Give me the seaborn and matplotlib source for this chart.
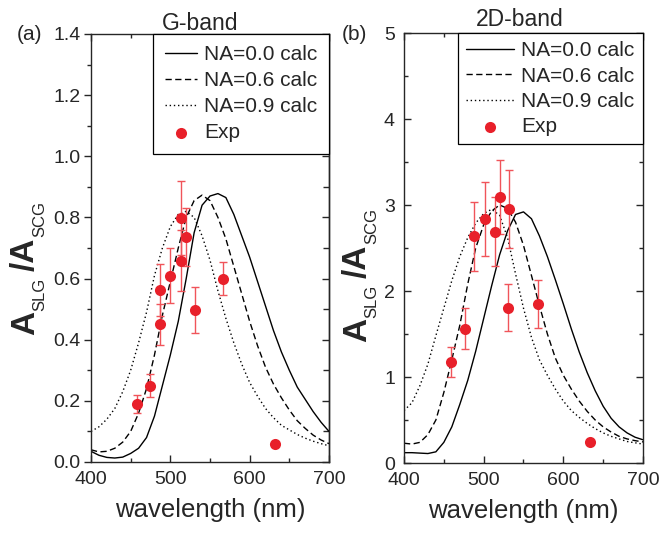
import matplotlib
matplotlib.use("Agg")
import matplotlib.pyplot as plt
import seaborn as sns
import pandas as pd
from matplotlib.ticker import MultipleLocator

# ---------------- data ----------------
wavelength = [400, 410, 420, 430, 440, 450, 460, 470, 480, 490, 500,
              510, 520, 530, 540, 550, 560, 570, 580, 590, 600,
              610, 620, 630, 640, 650, 660, 670, 680, 690, 700]

# G-band calculations
g_na00 = [0.035, 0.022, 0.015, 0.013, 0.016, 0.028, 0.045, 0.08, 0.15, 0.25, 0.35,
          0.46, 0.60, 0.75, 0.84, 0.87, 0.878, 0.865, 0.81, 0.74, 0.67,
          0.59, 0.51, 0.43, 0.36, 0.30, 0.245, 0.205, 0.165, 0.13, 0.10]
g_na06 = [0.04, 0.033, 0.035, 0.045, 0.065, 0.10, 0.16, 0.24, 0.35, 0.48, 0.59,
          0.70, 0.80, 0.855, 0.873, 0.855, 0.80, 0.73, 0.64, 0.55, 0.46,
          0.38, 0.31, 0.255, 0.21, 0.17, 0.135, 0.11, 0.088, 0.072, 0.06]
g_na09 = [0.10, 0.115, 0.14, 0.175, 0.23, 0.30, 0.39, 0.49, 0.61, 0.70, 0.77,
          0.81, 0.82, 0.80, 0.74, 0.66, 0.56, 0.47, 0.39, 0.32, 0.26,
          0.215, 0.175, 0.145, 0.12, 0.105, 0.09, 0.078, 0.068, 0.06, 0.053]

# 2D-band calculations
d_na00 = [0.12, 0.12, 0.115, 0.11, 0.13, 0.24, 0.42, 0.68, 0.96, 1.30, 1.68,
          2.06, 2.42, 2.70, 2.89, 2.92, 2.84, 2.64, 2.40, 2.13, 1.85,
          1.56, 1.29, 1.05, 0.84, 0.66, 0.52, 0.42, 0.35, 0.30, 0.27]
d_na06 = [0.23, 0.22, 0.24, 0.33, 0.50, 0.82, 1.20, 1.60, 2.08, 2.50, 2.77,
          2.93, 3.00, 2.96, 2.80, 2.53, 2.18, 1.83, 1.50, 1.22, 1.02,
          0.86, 0.72, 0.60, 0.50, 0.42, 0.36, 0.31, 0.28, 0.26, 0.245]
d_na09 = [0.61, 0.70, 0.90, 1.15, 1.48, 1.80, 2.12, 2.40, 2.62, 2.79, 2.90,
          2.95, 2.88, 2.62, 2.20, 1.80, 1.46, 1.20, 1.02, 0.86, 0.72,
          0.61, 0.53, 0.46, 0.40, 0.35, 0.31, 0.28, 0.25, 0.235, 0.22]

curve_labels = ["NA=0.0 calc", "NA=0.6 calc", "NA=0.9 calc"]

# experimental points
g_exp_wl = [458, 475, 487.5, 487.5, 500, 513.5, 513.5, 519.5, 531.5, 567, 632]
g_exp_val = [0.189, 0.25, 0.45, 0.562, 0.61, 0.658, 0.798, 0.737, 0.498, 0.60, 0.06]
g_exp_err = [0.03, 0.037, 0.068, 0.085, 0.09, 0.10, 0.12, 0.095, 0.075, 0.055, 0.0]

d_exp_wl = [459, 476.5, 488.3, 501.7, 514.6, 520, 532, 530.4, 568.3, 633]
d_exp_val = [1.17, 1.56, 2.635, 2.84, 2.69, 3.09, 2.955, 1.805, 1.85, 0.245]
d_exp_err = [0.175, 0.24, 0.40, 0.43, 0.40, 0.43, 0.45, 0.275, 0.28, 0.0]

# ---------------- style ----------------
sns.set_style("ticks")
plt.rcParams["font.family"] = ["Liberation Sans", "DejaVu Sans"]
plt.rcParams["axes.linewidth"] = 1.0

W, H = 663, 535
fig = plt.figure(figsize=(W / 100, H / 100), dpi=100)

RED = "#e8202a"
ERR = "#f0545a"
line_styles = ["-", (0, (4.5, 2.5)), (0, (1, 2))]


def draw_panel(ax, curves, exp_wl, exp_val, exp_err):
    for lab, vals, ls in zip(curve_labels, curves, line_styles):
        d = pd.DataFrame({"wavelength": wavelength, "ratio": vals})
        sns.lineplot(data=d, x="wavelength", y="ratio", ax=ax, color="black",
                     lw=1.0, linestyle=ls, label=lab)
    ex = pd.DataFrame({"wavelength": exp_wl, "ratio": exp_val, "err": exp_err})
    eb = ex[ex["err"] > 0]
    ax.errorbar(eb["wavelength"], eb["ratio"], yerr=eb["err"], fmt="none",
                ecolor=ERR, elinewidth=1.0, capsize=3, capthick=1.0, zorder=3)
    sns.scatterplot(data=ex, x="wavelength", y="ratio", ax=ax, color=RED,
                    s=64, linewidth=0, zorder=4, label="Exp")
    ax.set_xlim(400, 700)
    ax.xaxis.set_major_locator(MultipleLocator(100))
    ax.xaxis.set_minor_locator(MultipleLocator(50))
    ax.tick_params(axis="x", which="both", direction="in", top=True, bottom=True,
                   labelsize=14, pad=6.5)
    ax.tick_params(axis="x", which="major", length=5, width=1)
    ax.tick_params(axis="x", which="minor", length=3, width=1)
    ax.set_xlabel("wavelength (nm)", fontsize=18.5, labelpad=7)
    ax.set_ylabel("")


# ---------------- panel (a) ----------------
axa = fig.add_axes([91 / W, 1 - 462 / H, 238 / W, 428 / H])
draw_panel(axa, [g_na00, g_na06, g_na09], g_exp_wl, g_exp_val, g_exp_err)
axa.set_ylim(0, 1.4)
axa.yaxis.set_major_locator(MultipleLocator(0.2))
axa.yaxis.set_minor_locator(MultipleLocator(0.1))
axa.tick_params(axis="y", which="both", direction="out", left=True, right=False,
                labelsize=14, pad=2.5)
axa.tick_params(axis="y", which="major", length=5, width=1)
axa.tick_params(axis="y", which="minor", length=3, width=1)
sec = axa.secondary_yaxis("right")
sec.yaxis.set_major_locator(MultipleLocator(0.2))
sec.yaxis.set_minor_locator(MultipleLocator(0.1))
sec.tick_params(axis="y", which="both", direction="in", labelright=False)
sec.tick_params(axis="y", which="major", length=5, width=1)
sec.tick_params(axis="y", which="minor", length=4, width=1)
axa.text(0.46, 1.009, "G-band", transform=axa.transAxes, ha="center",
         va="baseline", fontsize=16.5)

# ---------------- panel (b) ----------------
axb = fig.add_axes([404 / W, 1 - 463 / H, 239 / W, 430 / H])
draw_panel(axb, [d_na00, d_na06, d_na09], d_exp_wl, d_exp_val, d_exp_err)
axb.set_ylim(0, 5)
axb.yaxis.set_major_locator(MultipleLocator(1))
axb.yaxis.set_minor_locator(MultipleLocator(0.5))
axb.tick_params(axis="y", which="both", direction="in", left=True, right=True,
                labelsize=14, pad=6.5)
axb.tick_params(axis="y", which="major", length=5, width=1)
axb.tick_params(axis="y", which="minor", length=3, width=1)
axb.text(0.485, 1.016, "2D-band", transform=axb.transAxes, ha="center",
         va="baseline", fontsize=16.5)

# ---------------- legends ----------------
for ax, hl, ls_, bp in ((axa, 1.55, 0.33, 0.55), (axb, 2.3, 0.3, 0.4)):
    handles, labels = ax.get_legend_handles_labels()
    leg = ax.legend(handles, labels, loc="upper right", bbox_to_anchor=(1, 1),
                    borderaxespad=0, fontsize=15, frameon=True, fancybox=False,
                    framealpha=1, edgecolor="black", handlelength=hl,
                    handletextpad=0.35, labelspacing=ls_, borderpad=bp)
    leg.get_frame().set_linewidth(0.9)

# ---------------- panel letters ----------------
fig.text(17 / W, 1 - 40 / H, "(a)", fontsize=15, ha="left", va="baseline")
fig.text(342 / W, 1 - 40 / H, "(b)", fontsize=15, ha="left", va="baseline")


# ---------------- y labels: A_SLG /A_SCG ----------------
def ylabel_pieces(ax, x_px, y_px):
    t1 = fig.text(x_px / W, 1 - y_px / H, "A", rotation=90, fontsize=24,
                  fontweight="bold", ha="left", va="bottom")
    t2 = ax.annotate("SLG", xy=(1, 1), xycoords=t1, xytext=(4.7, 0),
                     textcoords="offset points", rotation=90, fontsize=12,
                     ha="right", va="bottom", annotation_clip=False)
    t3 = ax.annotate("/A", xy=(1, 1), xycoords=(t1, t2), xytext=(0, 5),
                     textcoords="offset points", rotation=90, fontsize=24,
                     fontweight="bold", ha="right", va="bottom",
                     annotation_clip=False)
    ax.annotate("SCG", xy=(1, 1), xycoords=t3, xytext=(4.7, 0),
                textcoords="offset points", rotation=90, fontsize=12,
                ha="right", va="bottom", annotation_clip=False)


ylabel_pieces(axa, 10, 335)
ylabel_pieces(axb, 342, 342)

fig.savefig("out.png", dpi=100)
